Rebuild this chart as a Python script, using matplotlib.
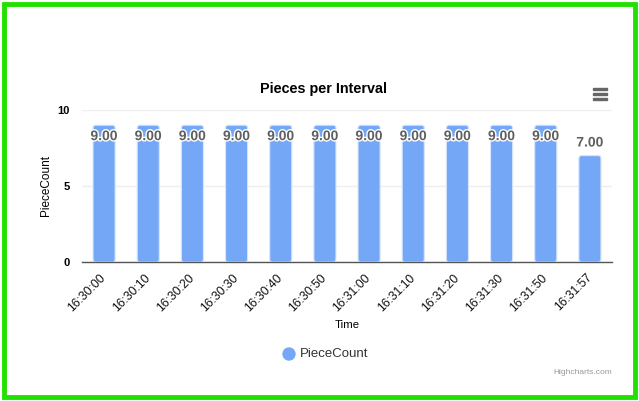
import numpy as np
import matplotlib.pyplot as plt
from matplotlib.patches import Rectangle, FancyBboxPatch, Circle
import matplotlib.patheffects as pe

plt.rcParams["font.family"] = ["Liberation Sans", "DejaVu Sans"]

times = ["16:30:00", "16:30:10", "16:30:20", "16:30:30", "16:30:40", "16:30:50",
         "16:31:00", "16:31:10", "16:31:20", "16:31:30", "16:31:50", "16:31:57"]
piece_count = [9, 9, 9, 9, 9, 9, 9, 9, 9, 9, 9, 7]
y_ticks = [0, 5, 10]

W, H = 639, 401
bar_color = "#74a8f7"

fig = plt.figure(figsize=(W / 100, H / 100), dpi=100)

# plot area in pixels: x 82..612, y 110..262 (top->bottom)
ax = fig.add_axes([82 / W, 1 - 262 / H, 530 / W, 152 / H])
x = np.arange(len(times))
ax.set_xlim(-0.5, len(times) - 0.5)
ax.set_ylim(0, 10)

bar_w = 0.5
outline = [pe.withStroke(linewidth=2, foreground="white")]
for xi, v in zip(x, piece_count):
    ax.add_patch(FancyBboxPatch((xi - bar_w / 2, 0), bar_w, v,
                                boxstyle="round,pad=0,rounding_size=0.06",
                                mutation_aspect=10 / 152 * 530 / 12,
                                facecolor=bar_color, edgecolor="#d6e5fd",
                                linewidth=0.8, zorder=3))
    if v >= 8.5:
        ly = v - 0.72
    else:
        ly = v + 0.86
    ax.text(xi, ly, f"{v:.2f}", ha="center", va="center",
            fontsize=10, fontweight="bold", color="#5f5f5f", zorder=5,
            path_effects=outline)

ax.set_yticks(y_ticks)
ax.set_yticklabels([str(t) for t in y_ticks], fontsize=8, fontweight="bold")
ax.yaxis.grid(True, color="#eeeeee", linewidth=1, zorder=0)
ax.tick_params(axis="y", length=0, pad=9)
ax.set_xticks(x)
ax.set_xticklabels(times, rotation=45, ha="right", va="center",
                   rotation_mode="anchor", fontsize=8.8, color="#111111")
ax.tick_params(axis="x", length=0, pad=10)
for s in ["top", "right", "left"]:
    ax.spines[s].set_visible(False)
ax.spines["bottom"].set_color("#555555")
ax.spines["bottom"].set_linewidth(1)
ax.spines["bottom"].set_zorder(4)

ax.set_ylabel("PieceCount", fontsize=8.5, labelpad=4)
fig.text(347 / W, 1 - 325 / H, "Time", ha="center", va="center", fontsize=8.2)

fig.text(324 / W, 1 - 89 / H, "Pieces per Interval", ha="center", va="center",
         fontsize=10.4, fontweight="bold")

# hamburger menu icon
for yy in (89, 94, 99):
    fig.add_artist(Rectangle((593 / W, 1 - (yy + 1) / H), 14 / W, 2 / H,
                             transform=fig.transFigure, color="#666666"))

# legend
fig.add_artist(Circle((289, H - 354), 6, transform=None, color=bar_color))
fig.text(300 / W, 1 - 354 / H, "PieceCount", ha="left", va="center",
         fontsize=9.5, color="#333333")

fig.text(612 / W, 1 - 372 / H, "Highcharts.com", ha="right", va="center",
         fontsize=6, color="#999999")

# green frame
fig.add_artist(Rectangle((4 / W, 4 / H), (W - 8) / W, (H - 8) / H,
                         transform=fig.transFigure, fill=False,
                         edgecolor="#22e000", linewidth=3.5))

fig.savefig("out.png", dpi=100)
